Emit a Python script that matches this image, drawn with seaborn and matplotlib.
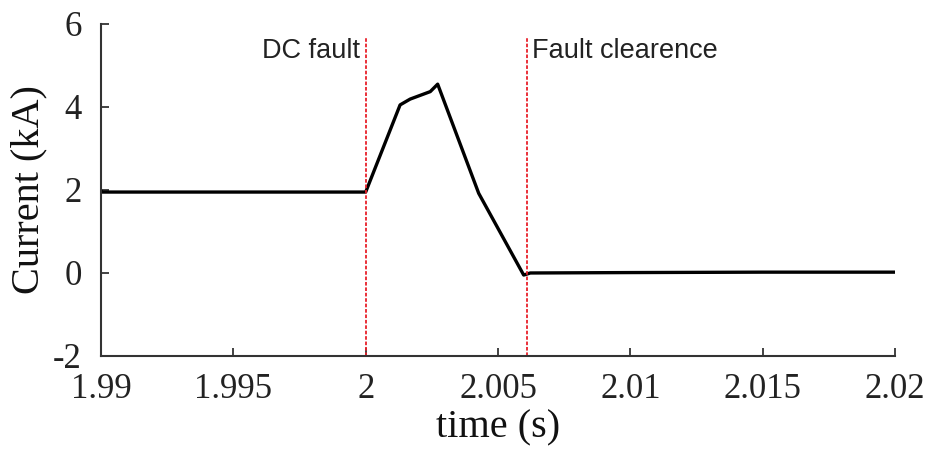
import numpy as np
import pandas as pd
import seaborn as sns
import matplotlib
matplotlib.use("Agg")
import matplotlib.pyplot as plt

# Data
time_s = [1.99, 1.99005, 2.0, 2.0013, 2.00168, 2.00244, 2.00272, 2.00427, 2.00597, 2.00622, 2.01, 2.015, 2.02]
current_kA = [1.98, 1.95, 1.95, 4.05, 4.19, 4.37, 4.55, 1.92, -0.05, 0.0, 0.01, 0.02, 0.02]
event_times = [2.0, 2.0061]
event_labels = ["DC fault", "Fault clearence"]
xticks = [1.99, 1.995, 2.0, 2.005, 2.01, 2.015, 2.02]
xtick_labels = ["1.99", "1.995", "2", "2.005", "2.01", "2.015", "2.02"]
yticks = [-2, 0, 2, 4, 6]

sns.set_theme(style="ticks")
plt.rcParams['font.family'] = ['Liberation Serif', 'DejaVu Serif']

fig = plt.figure(figsize=(9.32, 4.61), dpi=100)
ax = fig.add_axes([0.1084, 0.2278, 0.8519, 0.7202])

df = pd.DataFrame({"t": time_s, "i": current_kA})
sns.lineplot(data=df, x="t", y="i", ax=ax, color="black", linewidth=2.4, sort=False)

for t in event_times:
    ax.axvline(t, ymin=0, ymax=0.957, color="#e8202a", linestyle=(0, (2, 1)), linewidth=1.3)

ax.text(event_times[0] - 0.0002, 5.35, event_labels[0], ha="right", va="center",
        fontsize=19.5, family=["Liberation Sans", "DejaVu Sans"], color="#222222")
ax.text(event_times[1] + 0.0002, 5.35, event_labels[1], ha="left", va="center",
        fontsize=19.5, family=["Liberation Sans", "DejaVu Sans"], color="#222222")

ax.set_xlim(1.99, 2.02)
ax.set_ylim(-2, 6)
ax.set_xticks(xticks)
ax.set_xticklabels(xtick_labels)
ax.set_yticks(yticks)
ax.set_yticklabels([str(v) for v in yticks])
ax.tick_params(direction="in", length=6, width=1.2, labelsize=25, colors="#222222")
ax.tick_params(axis="x", pad=12)
ax.tick_params(axis="y", pad=14)
ax.set_xlabel("time (s)", fontsize=29, color="#111111", labelpad=3)
ax.set_ylabel("Current (kA)", fontsize=29, color="#111111", labelpad=4)
for s in ["top", "right"]:
    ax.spines[s].set_visible(False)
for s in ["left", "bottom"]:
    ax.spines[s].set_linewidth(1.5)
    ax.spines[s].set_color("#333333")

fig.savefig("out.png", dpi=100)
